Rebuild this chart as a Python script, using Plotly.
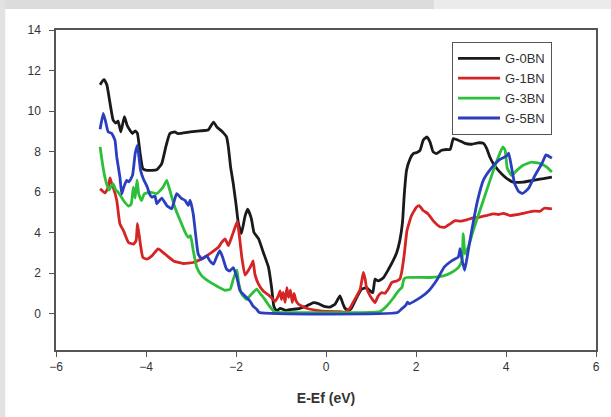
import plotly.graph_objects as go

# ---- data ----
g0_x = [-5.02, -4.96, -4.93, -4.87, -4.80, -4.73, -4.67, -4.62, -4.56, -4.48, -4.42, -4.36, -4.30, -4.24, -4.19,
        -4.13, -4.07, -3.98, -3.76, -3.65, -3.56, -3.47, -3.36, -3.30, -3.02, -2.80, -2.62, -2.50, -2.42, -2.30,
        -2.21, -2.17, -2.12, -2.06, -2.00, -1.95, -1.88, -1.80, -1.74, -1.66, -1.60, -1.50, -1.39, -1.28, -1.21,
        -1.16, -1.10, -1.02, -0.91, -0.73, -0.58, -0.43, -0.28, -0.17, -0.06, 0.09, 0.20, 0.31, 0.38, 0.42,
        0.50, 0.56, 0.68, 0.79, 0.90, 0.98, 1.04, 1.09, 1.16, 1.27, 1.38, 1.50, 1.57, 1.64, 1.70, 1.74, 1.79,
        1.87, 1.94, 2.02, 2.09, 2.16, 2.24, 2.31, 2.38, 2.46, 2.57, 2.68, 2.76, 2.83, 2.94, 3.09, 3.24, 3.38,
        3.50, 3.57, 3.64, 3.72, 3.83, 3.98, 4.16, 4.38, 4.61, 4.83, 5.02]
g0_y = [11.3, 11.5, 11.55, 11.3, 10.4, 9.55, 9.4, 9.5, 8.97, 9.72, 9.3, 9.06, 8.89, 9.02, 8.89,
        7.9, 7.16, 7.07, 7.1, 7.4, 8.23, 8.89, 8.97, 8.89, 8.97, 9.02, 9.06, 9.45, 9.2, 8.97,
        8.72, 8.23, 7.24, 6.4, 5.4, 4.5, 3.95, 4.8, 5.15, 4.7, 4.0, 3.7, 3.0, 2.3, 1.3,
        0.37, 0.12, 0.26, 0.16, 0.21, 0.26, 0.37, 0.54, 0.49, 0.37, 0.32, 0.46, 0.87, 0.46, 0.26,
        0.16, 0.25, 0.78, 1.2, 1.28, 1.12, 1.03, 1.7, 1.61, 1.75, 2.15, 2.65, 3.0, 3.6, 4.5, 5.9, 7.07,
        7.65, 7.9, 7.95, 8.06, 8.56, 8.72, 8.48, 7.98, 7.9, 8.06, 8.1, 8.1, 8.64, 8.56, 8.4, 8.36, 8.43,
        8.4, 8.15, 7.73, 7.4, 7.07, 6.74, 6.49, 6.49, 6.58, 6.66, 6.74]

g1_x = [-5.02, -4.91, -4.84, -4.80, -4.76, -4.73, -4.65, -4.58, -4.50, -4.39, -4.28, -4.22, -4.19, -4.13, -4.07,
        -3.98, -3.87, -3.73, -3.58, -3.39, -3.17, -2.95, -2.73, -2.54, -2.39, -2.32, -2.24, -2.17, -2.10, -2.02,
        -1.97, -1.93, -1.87, -1.80, -1.73, -1.65, -1.62, -1.58, -1.50, -1.39, -1.28, -1.20, -1.13, -1.06, -1.02,
        -0.99, -0.95, -0.91, -0.87, -0.83, -0.79, -0.75, -0.71, -0.67, -0.61, -0.52, -0.43, -0.21, 0.02, 0.31,
        0.42, 0.53, 0.64, 0.76, 0.83, 0.87, 0.90, 0.98, 1.09, 1.16, 1.24, 1.31, 1.38, 1.46, 1.57, 1.64, 1.68,
        1.74, 1.80, 1.90, 2.01, 2.07, 2.16, 2.27, 2.38, 2.53, 2.64, 2.76, 2.87, 2.98, 3.13, 3.27, 3.42, 3.57,
        3.72, 3.83, 3.94, 4.09, 4.24, 4.38, 4.61, 4.76, 4.85, 5.02]
g1_y = [6.16, 5.95, 6.24, 6.7, 6.4, 6.24, 5.58, 4.43, 4.09, 3.51, 3.43, 3.6, 4.45, 3.51, 2.77,
        2.69, 2.85, 3.19, 2.94, 2.6, 2.47, 2.52, 2.74, 3.02, 3.27, 3.51, 3.68, 3.35, 3.76, 4.26,
        4.55, 3.93, 2.77, 1.9, 2.11, 2.44, 2.6, 1.95, 1.45, 1.1, 0.92, 0.75, 0.6, 0.87, 1.12,
        0.7, 1.05, 0.55, 1.28, 0.8, 1.15, 0.55, 1.0, 0.65, 0.46, 0.35, 0.26, 0.16, 0.1, 0.09,
        0.07, 0.26, 0.7, 1.2, 2.03, 1.7, 1.28, 0.87, 0.54, 0.87, 1.03, 1.0, 1.2, 1.53, 1.61, 1.7, 2.03,
        2.94, 4.1, 4.84, 5.25, 5.33, 5.09, 4.92, 4.59, 4.29, 4.26, 4.43, 4.59, 4.56, 4.63, 4.72, 4.76, 4.84,
        4.92, 4.89, 4.95, 4.84, 4.88, 4.95, 5.06, 5.05, 5.2, 5.17]

g3_x = [-5.02, -4.96, -4.91, -4.86, -4.82, -4.77, -4.73, -4.67, -4.62, -4.50, -4.39, -4.33, -4.28, -4.24, -4.20,
        -4.16, -4.10, -4.04, -3.91, -3.76, -3.62, -3.54, -3.47, -3.36, -3.24, -3.13, -3.06, -3.01, -2.95, -2.87,
        -2.76, -2.62, -2.43, -2.24, -2.13, -2.06, -1.98, -1.94, -1.87, -1.76, -1.66, -1.54, -1.45, -1.36, -1.27,
        -1.14, -0.80, 1.20, 1.35, 1.50, 1.61, 1.69, 1.73, 1.79, 2.31, 2.61, 2.79, 2.94, 3.02, 3.05, 3.09, 3.16,
        3.27, 3.42, 3.57, 3.72, 3.83, 3.93, 3.98, 4.03, 4.13, 4.24, 4.38, 4.57, 4.76, 4.90, 5.02]
g3_y = [8.23, 7.3, 6.7, 6.3, 6.1, 6.3, 6.4, 6.1, 6.0, 5.58, 5.3, 5.4, 6.24, 5.7, 6.6,
        5.9, 5.58, 5.9, 6.0, 5.92, 6.24, 6.58, 6.08, 5.25, 4.59, 4.01, 3.76, 3.85, 3.1, 2.27,
        1.86, 1.61, 1.36, 1.15, 1.2, 1.7, 2.15, 1.5, 0.95, 0.7, 0.95, 1.2, 0.95, 0.7, 0.4,
        0.07, 0.05, 0.1, 0.37, 0.78, 1.12, 1.3, 1.7, 1.78, 1.78, 1.86, 2.03, 2.27, 2.6, 3.95, 2.94, 3.27,
        4.09, 5.09, 6.08, 7.07, 7.73, 8.23, 8.06, 7.16, 6.82, 7.07, 7.32, 7.48, 7.4, 7.24, 6.99]

g5_x = [-5.02, -4.95, -4.90, -4.84, -4.76, -4.69, -4.65, -4.58, -4.54, -4.50, -4.43, -4.38, -4.30, -4.24, -4.19,
        -4.15, -4.12, -4.06, -3.97, -3.92, -3.87, -3.80, -3.76, -3.65, -3.54, -3.43, -3.32, -3.22, -3.13, -3.06,
        -3.02, -2.95, -2.89, -2.84, -2.76, -2.65, -2.58, -2.50, -2.43, -2.36, -2.30, -2.21, -2.14, -2.06, -1.98,
        -1.91, -1.80, -1.69, -1.62, -1.54, -1.48, 1.59, 1.68, 1.77, 1.81, 1.85, 2.11, 2.29, 2.46, 2.63, 2.81,
        2.94, 2.98, 3.02, 3.08, 3.15, 3.24, 3.37, 3.50, 3.67, 3.85, 4.02, 4.06, 4.12, 4.19, 4.28, 4.37, 4.50,
        4.63, 4.80, 4.89, 5.02]
g5_y = [9.1, 9.88, 9.5, 8.97, 8.89, 8.56, 7.73, 6.74, 5.9, 6.2, 6.58, 6.5, 6.82, 7.9, 8.3,
        7.6, 7.07, 6.66, 6.24, 5.9, 5.75, 5.8, 5.42, 5.7, 5.34, 5.17, 5.92, 5.7, 5.58, 5.34,
        5.6, 4.92, 3.76, 2.94, 2.69, 2.85, 2.6, 2.44, 2.8, 3.1, 2.8, 2.19, 2.1, 2.27, 1.78,
        1.12, 0.87, 0.62, 0.37, 0.21, 0.05, 0.05, 0.23, 0.4, 0.56, 0.48, 0.81, 1.14, 1.64, 2.3, 2.63,
        2.79, 3.2, 2.7, 2.13, 2.96, 4.12, 5.6, 6.6, 7.17, 7.59, 7.79, 7.92, 7.26, 6.43, 6.02, 5.93, 6.18,
        6.76, 7.42, 7.83, 7.67]

series_names = ["G-0BN", "G-1BN", "G-3BN", "G-5BN"]
series_x = [g0_x, g1_x, g3_x, g5_x]
series_y = [g0_y, g1_y, g3_y, g5_y]
series_colors = ["#1a1a1a", "#d42424", "#2cbf3a", "#2a3fc0"]

x_ticks = [-6, -4, -2, 0, 2, 4, 6]
y_ticks = [0, 2, 4, 6, 8, 10, 12, 14]

FONT = "Liberation Sans, Arial, sans-serif"

fig = go.Figure()
for name, xs, ys, col in zip(series_names, series_x, series_y, series_colors):
    fig.add_trace(go.Scatter(x=xs, y=ys, mode="lines", name=name,
                             line=dict(color=col, width=2.8, shape="spline", smoothing=0.4)))

axis_common = dict(showline=True, linecolor="#555555", linewidth=1.5, mirror=True,
                   ticks="outside", ticklen=5, tickcolor="#555555", tickwidth=1.2,
                   showgrid=False, zeroline=False,
                   tickfont=dict(family=FONT, size=12, color="#333333"))

fig.update_layout(
    width=611, height=417,
    margin=dict(l=56, r=15, t=30, b=67),
    paper_bgcolor="white", plot_bgcolor="white",
    xaxis=dict(range=[-6, 6], tickvals=x_ticks,
               title=dict(text="<b>E-Ef (eV)</b>", standoff=20,
                          font=dict(family=FONT, size=14, color="#333333")),
               **axis_common),
    yaxis=dict(range=[-1.8, 14], tickvals=y_ticks, ticklabelstandoff=6, **axis_common),
    legend=dict(x=0.733, y=0.962, xanchor="left", yanchor="top",
                bordercolor="#555555", borderwidth=1.2, bgcolor="white",
                font=dict(family=FONT, size=13, color="#333333"),
                tracegroupgap=0, itemwidth=42),
    showlegend=True,
    shapes=[
        dict(type="rect", xref="paper", yref="paper", x0=-0.11, x1=0.7, y0=1.066, y1=1.1,
             fillcolor="#dcdcdc", line=dict(width=0), layer="below"),
        dict(type="rect", xref="paper", yref="paper", x0=0.7, x1=1.03, y0=1.066, y1=1.1,
             fillcolor="#ebebeb", line=dict(width=0), layer="below"),
        dict(type="rect", xref="paper", yref="paper", x0=-0.11, x1=-0.094, y0=-0.22, y1=1.1,
             fillcolor="#e2e2e2", line=dict(width=0), layer="below"),
    ],
)

fig.write_html("out.html", config={"displayModeBar": False},
               post_script="document.body.style.margin='0';document.body.style.overflow='hidden';")
